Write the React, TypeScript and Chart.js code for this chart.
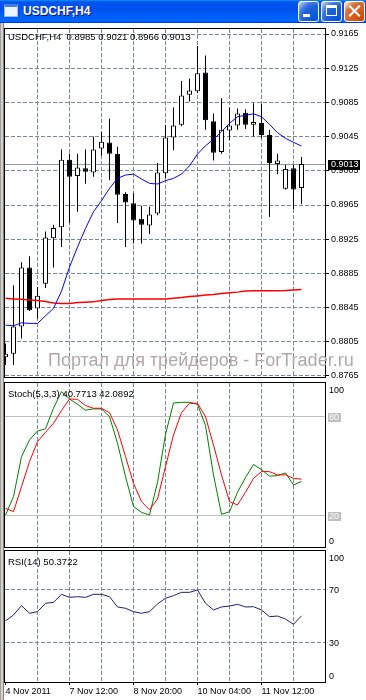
import React, { useEffect, useRef } from 'react';
import { Chart, registerables } from 'chart.js';

Chart.register(...registerables);

const FONT = "'Liberation Sans', Arial, sans-serif";
Chart.defaults.font.family = FONT;
Chart.defaults.font.size = 9;
Chart.defaults.color = '#000';

// ---------------- DATA ----------------
const symbolTitle = 'USDCHF,H4';
const headerOHLC = ['0.8985', '0.9021', '0.8966', '0.9013'];
const stochHeader = 'Stoch(5,3,3) 40.7713 42.0892';
const rsiHeader = 'RSI(14) 50.3722';
const watermark = 'Портал для трейдеров - ForTrader.ru';

const barOpen = [0.8787, 0.8791, 0.8823, 0.8892, 0.8844, 0.8873, 0.8926, 0.8939, 0.9018, 0.8999, 0.9008, 0.9003, 0.9031, 0.9038, 0.9025, 0.8978, 0.8967, 0.8949, 0.8941, 0.8955, 0.9002, 0.9044, 0.9059, 0.9094, 0.9098, 0.9120, 0.9063, 0.9027, 0.9052, 0.9058, 0.9073, 0.9059, 0.9061, 0.9047, 0.9013, 0.8984, 0.9008, 0.8985];
const barHigh = [0.8803, 0.8871, 0.8898, 0.8905, 0.8869, 0.8934, 0.8942, 0.9030, 0.9025, 0.9025, 0.9030, 0.9045, 0.9050, 0.9066, 0.9033, 0.8980, 0.8979, 0.8964, 0.8963, 0.9014, 0.9059, 0.9079, 0.9110, 0.9113, 0.9151, 0.9140, 0.9072, 0.9090, 0.9079, 0.9078, 0.9077, 0.9084, 0.9083, 0.9053, 0.9025, 0.9012, 0.9012, 0.9021];
const barLow = [0.8778, 0.8778, 0.8809, 0.8841, 0.8832, 0.8868, 0.8892, 0.8916, 0.8944, 0.8957, 0.8990, 0.8998, 0.9023, 0.8994, 0.8944, 0.8916, 0.8920, 0.8920, 0.8931, 0.8953, 0.8996, 0.9029, 0.9057, 0.9086, 0.9096, 0.9053, 0.9017, 0.9025, 0.9041, 0.9053, 0.9054, 0.9045, 0.9043, 0.8951, 0.9001, 0.8983, 0.8960, 0.8966];
const barClose = [0.8791, 0.8823, 0.8892, 0.8842, 0.8859, 0.8927, 0.8938, 0.9018, 0.8998, 0.9009, 0.9004, 0.9030, 0.9039, 0.9025, 0.8977, 0.8968, 0.8947, 0.8942, 0.8954, 0.9003, 0.9044, 0.9058, 0.9093, 0.9099, 0.9119, 0.9064, 0.9026, 0.9053, 0.9058, 0.9072, 0.9059, 0.9062, 0.9047, 0.9014, 0.9017, 0.9007, 0.8983, 0.9013];

const maFast = [0.88245, 0.88237, 0.88272, 0.88265, 0.88265, 0.88354, 0.88441, 0.88643, 0.88924, 0.89158, 0.89377, 0.89571, 0.89700, 0.89845, 0.89962, 0.90000, 0.90012, 0.89954, 0.89903, 0.89895, 0.89934, 0.89962, 0.90012, 0.90108, 0.90246, 0.90343, 0.90418, 0.90507, 0.90605, 0.90682, 0.90699, 0.90717, 0.90682, 0.90593, 0.90495, 0.90430, 0.90383, 0.90340];
const maSlow = [0.88558, 0.88552, 0.88547, 0.88540, 0.88532, 0.88520, 0.88503, 0.88499, 0.88499, 0.88509, 0.88512, 0.88517, 0.88532, 0.88544, 0.88550, 0.88550, 0.88550, 0.88550, 0.88550, 0.88550, 0.88550, 0.88558, 0.88567, 0.88579, 0.88587, 0.88596, 0.88604, 0.88616, 0.88623, 0.88631, 0.88643, 0.88647, 0.88647, 0.88647, 0.88647, 0.88649, 0.88655, 0.88663];

const stochMain = [20.4, 31.5, 55.8, 65.9, 71.3, 72.6, 85.1, 95.2, 90.7, 87.5, 83.9, 84.7, 84.7, 80.0, 63.9, 43.7, 25.5, 22.0, 20.4, 40.2, 69.3, 88.3, 88.7, 88.7, 87.5, 74.6, 44.7, 20.8, 22.4, 34.2, 43.1, 51.1, 47.9, 43.9, 44.3, 45.9, 38.6, 40.77];
const stochSignal = [24.5, 22.4, 37.6, 52.7, 64.9, 70.5, 76.0, 83.7, 90.7, 90.5, 86.7, 85.1, 85.1, 82.4, 72.0, 55.8, 39.6, 28.5, 23.5, 30.1, 49.7, 68.9, 82.4, 88.1, 88.1, 80.0, 62.8, 44.7, 28.5, 26.5, 34.2, 42.6, 46.7, 46.7, 44.7, 44.7, 42.6, 42.09];
const rsiValues = [46.5, 51.0, 58.1, 52.3, 53.5, 59.9, 60.6, 66.7, 64.4, 64.9, 64.4, 66.7, 66.7, 64.9, 57.1, 56.1, 53.5, 52.3, 53.5, 59.4, 63.7, 65.7, 68.2, 68.2, 70.0, 59.9, 54.8, 57.1, 57.8, 59.1, 57.1, 57.3, 54.8, 49.7, 50.2, 47.9, 43.9, 50.37];

const priceTicks = [0.8765, 0.8805, 0.8845, 0.8885, 0.8925, 0.8965, 0.9005, 0.9045, 0.9085, 0.9125, 0.9165];
const lastPrice = 0.9013;
const gridBars = [0, 4, 8, 12, 16, 20, 24, 28, 32, 36];
const timeTickPos = [0, 8, 16, 24, 32];
const timeTickLabels = ['4 Nov 2011', '7 Nov 12:00', '8 Nov 20:00', '10 Nov 04:00', '11 Nov 12:00'];
const stochLevels = [20, 80];
const stochAxisLabels = [100, 80, 20, 0];
const rsiLevels = [30, 70];
const rsiAxisLabels = [100, 70, 30, 0];

// axis ranges
const X_MIN = -0.0625;
const X_MAX = 39.9375;
const PRICE_MIN = 0.876383;
const PRICE_MAX = 0.917085;
const STOCH_MIN = 1.0;
const STOCH_MAX = 100.4;
const RSI_MIN = 0.1;
const RSI_MAX = 99.6;

// ---------------- STYLE ----------------
const GRID = '#778899';
const DASH = [4, 2];

const zeroPad = (s: any) => {
  s.paddingLeft = 0;
  s.paddingRight = 0;
  s.paddingTop = 0;
  s.paddingBottom = 0;
};

function xAxis(showLabels: boolean) {
  return {
    type: 'linear',
    min: X_MIN,
    max: X_MAX,
    offset: false,
    bounds: 'data',
    afterBuildTicks: (s: any) => {
      s.ticks = gridBars.map((v) => ({ value: v }));
    },
    afterFit: (s: any) => {
      s.height = showLabels ? 16 : 0;
      zeroPad(s);
    },
    grid: {
      offset: false,
      lineWidth: 1,
      color: (c: any) => (c.tick && c.tick.value === 0 ? 'rgba(0,0,0,0)' : GRID),
      drawTicks: showLabels,
      tickLength: 3,
      tickWidth: 1,
      tickColor: (c: any) => (c.tick && timeTickPos.includes(c.tick.value) ? '#000' : 'rgba(0,0,0,0)'),
    },
    border: { display: false, dash: DASH },
    ticks: {
      display: showLabels,
      autoSkip: false,
      maxRotation: 0,
      minRotation: 0,
      align: 'start',
      padding: 1,
      color: '#000',
      font: { family: FONT, size: 9 },
      callback: (v: any) => {
        const k = timeTickPos.indexOf(Number(v));
        return k >= 0 ? timeTickLabels[k] : '';
      },
    },
  };
}

const framePlugin = {
  id: 'panelFrame',
  afterDraw(chart: any) {
    const { ctx, chartArea: a } = chart;
    ctx.save();
    ctx.strokeStyle = '#000';
    ctx.lineWidth = 1;
    ctx.setLineDash([]);
    ctx.strokeRect(a.left - 0.5, a.top - 0.5, a.right - a.left + 1, a.bottom - a.top + 1);
    ctx.restore();
  },
};

const lastPricePlugin = {
  id: 'lastPrice',
  beforeDatasetsDraw(chart: any) {
    const { ctx, chartArea: a } = chart;
    const y = Math.round(chart.scales.y.getPixelForValue(lastPrice)) + 0.5;
    ctx.save();
    ctx.strokeStyle = '#8a99a8';
    ctx.lineWidth = 1;
    ctx.beginPath();
    ctx.moveTo(a.left, y);
    ctx.lineTo(a.right, y);
    ctx.stroke();
    ctx.restore();
  },
  afterDatasetsDraw(chart: any) {
    const { ctx, chartArea: a } = chart;
    const y = Math.round(chart.scales.y.getPixelForValue(lastPrice));
    ctx.save();
    ctx.fillStyle = '#000';
    ctx.fillRect(a.right + 3, y - 4, 32, 10);
    ctx.fillStyle = '#fff';
    ctx.font = `9px ${FONT}`;
    ctx.textBaseline = 'middle';
    ctx.fillText(lastPrice.toFixed(4), a.right + 6, y + 1);
    ctx.restore();
  },
};

function sideLabelsPlugin(values: number[], boxed: number[]) {
  return {
    id: 'sideLabels',
    afterDraw(chart: any) {
      const { ctx, chartArea: a } = chart;
      const ys = chart.scales.y;
      ctx.save();
      ctx.font = `9px ${FONT}`;
      ctx.textBaseline = 'middle';
      values.forEach((v) => {
        let py = ys.getPixelForValue(v);
        py = Math.min(Math.max(py, a.top + 7), a.bottom - 6);
        py = Math.round(py);
        const label = String(v);
        const x = a.right + 4;
        if (boxed.includes(v)) {
          const w = ctx.measureText(label).width;
          ctx.fillStyle = '#c0c0c0';
          ctx.fillRect(x - 1, py - 4, Math.ceil(w) + 2, 9);
          ctx.fillStyle = '#ffffff';
        } else {
          ctx.fillStyle = '#000';
        }
        ctx.fillText(label, x, py + 0.5);
      });
      ctx.restore();
    },
  };
}

const baseOptions = (padBottom: number) => ({
  responsive: false,
  animation: false,
  devicePixelRatio: 1,
  events: [],
  layout: { padding: { left: 1, right: 0, top: 1, bottom: padBottom } },
  plugins: { legend: { display: false }, tooltip: { enabled: false }, title: { display: false } },
});

const lineSet = (values: number[], color: string, width: number) => ({
  type: 'line',
  data: values.map((v, i) => ({ x: i, y: v })),
  borderColor: color,
  borderWidth: width,
  pointRadius: 0,
  tension: 0,
  fill: false,
});

function buildMain() {
  const wickData = barOpen.map((_, i) => ({ x: i, y: [barLow[i], barHigh[i]] }));
  const bodyData = barOpen.map((o, i) => ({ x: i, y: [Math.min(o, barClose[i]), Math.max(o, barClose[i])] }));
  const bodyColors = barOpen.map((o, i) => (barClose[i] >= o ? '#ffffff' : '#000000'));
  return {
    type: 'line',
    data: {
      datasets: [
        lineSet(maFast, '#0000ff', 1),
        lineSet(maSlow, '#ff0000', 1.5),
        {
          type: 'bar',
          data: bodyData,
          backgroundColor: bodyColors,
          borderColor: '#000',
          borderWidth: 1,
          borderSkipped: false,
          inflateAmount: 0,
          barThickness: 5,
          grouped: false,
        },
        {
          type: 'bar',
          data: wickData,
          backgroundColor: '#000',
          borderWidth: 0,
          inflateAmount: 0,
          barThickness: 1,
          grouped: false,
        },
      ],
    },
    options: {
      ...baseOptions(1),
      scales: {
        x: xAxis(false),
        y: {
          type: 'linear',
          position: 'right',
          min: PRICE_MIN,
          max: PRICE_MAX,
          bounds: 'data',
          beginAtZero: false,
          afterBuildTicks: (s: any) => {
            s.ticks = priceTicks.map((v) => ({ value: v }));
          },
          afterFit: (s: any) => {
            s.width = 37;
            zeroPad(s);
          },
          grid: { color: GRID, lineWidth: 1, drawTicks: true, tickLength: 4, tickColor: '#000', tickWidth: 1 },
          border: { display: false, dash: DASH },
          ticks: {
            autoSkip: false,
            padding: 2,
            color: '#000',
            font: { family: FONT, size: 9 },
            callback: (v: any) => Number(v).toFixed(4),
          },
        },
      },
    },
    plugins: [lastPricePlugin, framePlugin],
  };
}

function buildStoch() {
  return {
    type: 'line',
    data: {
      datasets: [lineSet(stochSignal, '#ff0000', 1), lineSet(stochMain, '#008000', 1)],
    },
    options: {
      ...baseOptions(1),
      scales: {
        x: xAxis(false),
        y: {
          type: 'linear',
          position: 'right',
          min: STOCH_MIN,
          max: STOCH_MAX,
          bounds: 'data',
          afterBuildTicks: (s: any) => {
            s.ticks = stochLevels.map((v) => ({ value: v }));
          },
          afterFit: (s: any) => {
            s.width = 37;
            zeroPad(s);
          },
          grid: { color: '#c0c0c0', lineWidth: 1, drawTicks: false },
          border: { display: false },
          ticks: { display: false },
        },
      },
    },
    plugins: [sideLabelsPlugin(stochAxisLabels, stochLevels), framePlugin],
  };
}

function buildRsi() {
  return {
    type: 'line',
    data: { datasets: [lineSet(rsiValues, '#1c1c78', 1)] },
    options: {
      ...baseOptions(0),
      scales: {
        x: xAxis(true),
        y: {
          type: 'linear',
          position: 'right',
          min: RSI_MIN,
          max: RSI_MAX,
          bounds: 'data',
          afterBuildTicks: (s: any) => {
            s.ticks = rsiLevels.map((v) => ({ value: v }));
          },
          afterFit: (s: any) => {
            s.width = 37;
            zeroPad(s);
          },
          grid: { color: GRID, lineWidth: 1, drawTicks: false },
          border: { display: false, dash: DASH },
          ticks: { display: false },
        },
      },
    },
    plugins: [sideLabelsPlugin(rsiAxisLabels, []), framePlugin],
  };
}

function ChartCanvas({ build, left, top, width, height }: any) {
  const ref = useRef<HTMLCanvasElement>(null);
  useEffect(() => {
    const chart = new Chart(ref.current as any, build());
    return () => chart.destroy();
  }, []);
  return (
    <canvas
      ref={ref}
      width={width}
      height={height}
      style={{ position: 'absolute', left, top, width, height, display: 'block' }}
    />
  );
}

const blueBtn =
  'radial-gradient(circle at 90% 90%, #0054e9 0%, #2263d5 55%, #4479e4 70%, #a3bbec 90%, #ffffff 100%)';
const redBtn =
  'radial-gradient(circle at 90% 90%, #cc4600 0%, #dc6527 55%, #cd7546 70%, #ffccb2 90%, #ffffff 100%)';

function TitleBar() {
  const btn = (left: number, bg: string, children: any) => (
    <div
      style={{
        position: 'absolute',
        left,
        top: 1,
        width: 21,
        height: 21,
        boxSizing: 'border-box',
        border: '1px solid #ffffff',
        borderRadius: 3,
        background: bg,
      }}
    >
      {children}
    </div>
  );
  return (
    <div
      style={{
        position: 'absolute',
        left: 0,
        top: 0,
        width: 366,
        height: 23,
        background:
          'linear-gradient(180deg, #0997ff, #0053ee 8%, #0050ee 40%, #0066ff 88%, #0066ff 93%, #005bff 95%, #003dd7 96%, #003dd7)',
      }}
    >
      <div
        style={{
          position: 'absolute',
          left: 4,
          top: 4,
          width: 14,
          height: 13,
          boxSizing: 'border-box',
          background: '#eef3ff',
          border: '1px solid #9cb8f0',
          borderTop: '3px solid #3f7fe8',
        }}
      />
      <div
        style={{
          position: 'absolute',
          left: 23,
          top: 4,
          fontFamily: FONT,
          fontWeight: 'bold',
          fontSize: 12,
          lineHeight: '14px',
          color: '#ffffff',
          textShadow: '1px 1px #0f1089',
          whiteSpace: 'pre',
        }}
      >
        {symbolTitle}
      </div>
      {btn(
        298,
        blueBtn,
        <div style={{ position: 'absolute', left: 4, top: 12, width: 7, height: 3, background: '#fff' }} />
      )}
      {btn(
        321,
        blueBtn,
        <div
          style={{
            position: 'absolute',
            left: 4,
            top: 3,
            width: 11,
            height: 11,
            boxSizing: 'border-box',
            border: '1px solid #fff',
            borderTop: '3px solid #fff',
          }}
        />
      )}
      {btn(
        344,
        redBtn,
        <>
          <div
            style={{
              position: 'absolute',
              left: 2,
              top: 8,
              width: 15,
              height: 2,
              background: '#fff',
              transform: 'rotate(45deg)',
            }}
          />
          <div
            style={{
              position: 'absolute',
              left: 2,
              top: 8,
              width: 15,
              height: 2,
              background: '#fff',
              transform: 'rotate(-45deg)',
            }}
          />
        </>
      )}
    </div>
  );
}

const textStyle = (left: number, top: number): any => ({
  position: 'absolute',
  left,
  top,
  fontFamily: FONT,
  fontSize: 9.5,
  lineHeight: '11px',
  color: '#000',
  whiteSpace: 'pre',
  pointerEvents: 'none',
});

export default function App() {
  useEffect(() => {
    document.body.style.margin = '0';
  }, []);
  return (
    <div
      style={{
        position: 'fixed',
        left: 0,
        top: 0,
        width: 366,
        height: 700,
        overflow: 'hidden',
        background: '#ffffff',
      }}
    >
      <TitleBar />
      <div
        style={{
          position: 'absolute',
          left: 0,
          top: 23,
          width: 4,
          height: 677,
          boxSizing: 'border-box',
          background: '#d4d0c8',
          borderLeft: '1px solid #a0a0a0',
          borderRight: '1px solid #808080',
        }}
      />
      <ChartCanvas build={buildMain} left={4} top={28} width={358} height={350} />
      <ChartCanvas build={buildStoch} left={4} top={382} width={358} height={166} />
      <ChartCanvas build={buildRsi} left={4} top={550} width={358} height={148} />
      <div style={textStyle(8, 31)}>{`${symbolTitle}  ${headerOHLC.join(' ')}`}</div>
      <div style={textStyle(8, 388)}>{stochHeader}</div>
      <div style={textStyle(8, 556)}>{rsiHeader}</div>
      <div
        style={{
          position: 'absolute',
          left: 48,
          top: 351,
          fontFamily: FONT,
          fontSize: 18,
          lineHeight: '18px',
          color: '#b0a8a8',
          whiteSpace: 'pre',
          pointerEvents: 'none',
        }}
      >
        {watermark}
      </div>
    </div>
  );
}
